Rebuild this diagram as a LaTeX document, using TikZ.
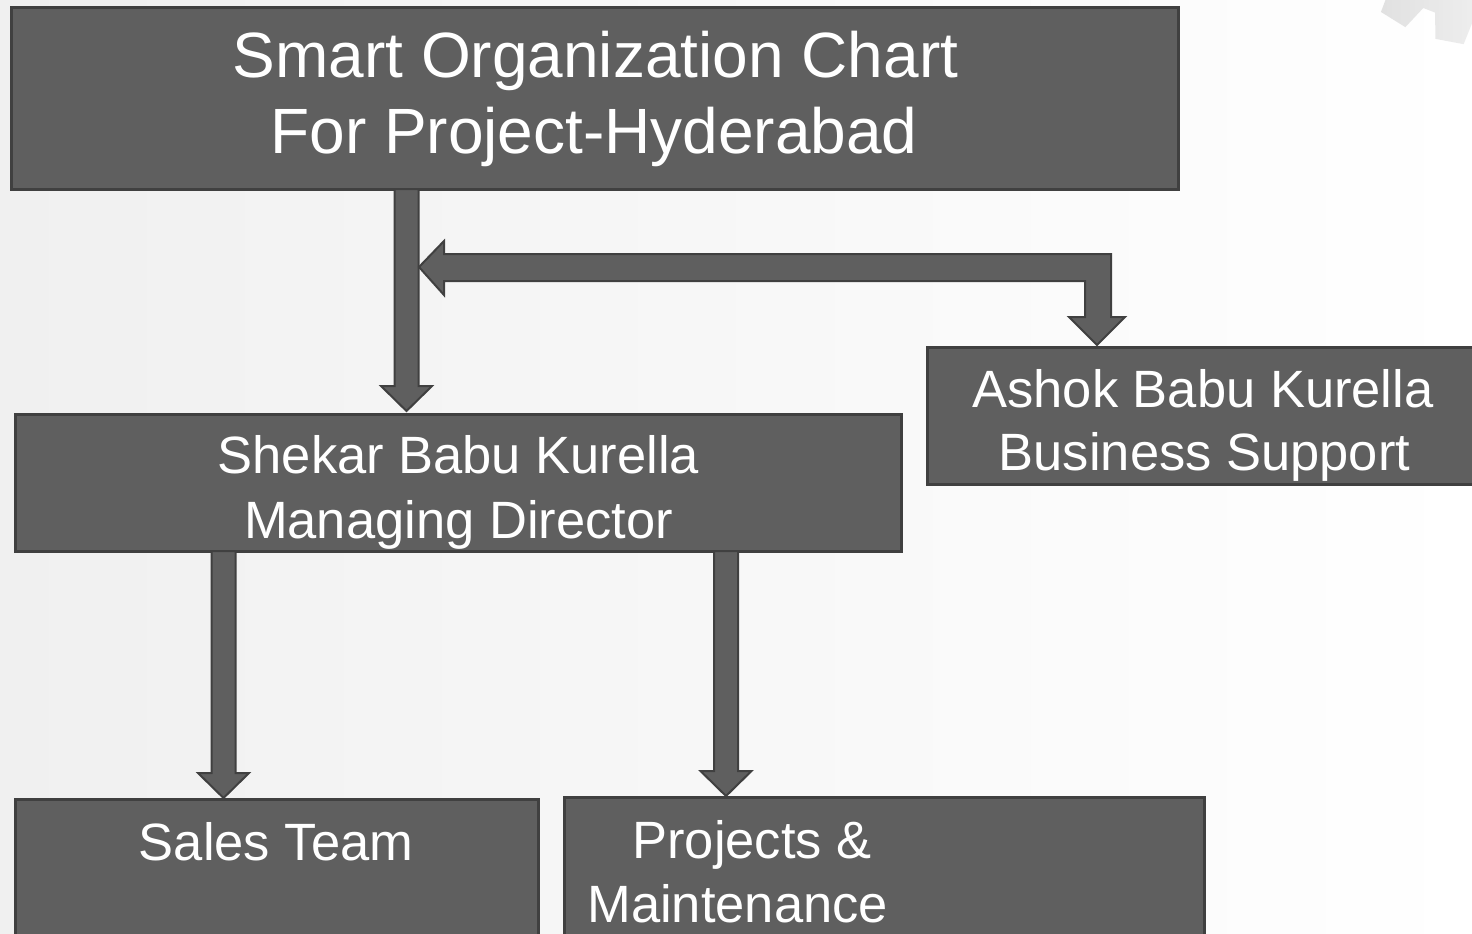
\documentclass[tikz,border=0pt]{standalone}
\usepackage{fontspec}
\setmainfont{Liberation Sans}
\usetikzlibrary{calc}
\definecolor{boxfill}{RGB}{95,95,95}
\definecolor{boxline}{RGB}{64,64,64}
\definecolor{bgleft}{RGB}{240,240,240}
\tikzset{
  box/.style={rectangle, fill=boxfill, draw=boxline, line width=1.5pt, inner sep=0pt, outer sep=0pt},
  txt/.style={text=white, inner sep=0pt, anchor=base, font=\fontsize{26.25}{31}\selectfont},
  ttl/.style={txt, font=\fontsize{32}{38}\selectfont},
  blk/.style={fill=boxfill, draw=boxline, line width=1pt, line join=miter},
}
\newcommand{\blockdown}[2]{\draw[blk] ($(#1)+(-12,0)$) -- ($(#2)+(-12,-25)$) -- ($(#2)+(-25.5,-25)$) -- (#2) -- ($(#2)+(25.5,-25)$) -- ($(#2)+(12,-25)$) -- ($(#1)+(12,0)$) -- cycle;}
\begin{document}
\begin{tikzpicture}[x=0.5pt,y=-0.5pt]
\useasboundingbox (0,0) rectangle (1472,933);
\clip (0,0) rectangle (1472,933);
\shade[left color=bgleft, right color=white] (0,0) rectangle (1472,933);
% gear decoration
\begin{scope}[shift={(1480,-120)}]
\shade[left color=gray!45, right color=gray!10, opacity=0.6]
  (60:140) \foreach \a in {79.5,100.7,121.9,143.1} { -- (\a-8:140) -- (\a-5:165) -- (\a+5:165) -- (\a+8:140) } -- (165:140) -- (0,0) -- cycle;
\end{scope}
% boxes
\node[box, minimum width=583.5pt, minimum height=91pt] (title) at (594.5,98) {};
\node[box, minimum width=443pt, minimum height=68.5pt] (shekar) at (458,482.5) {};
\node[box, minimum width=273.5pt, minimum height=68.5pt] (ashok) at (1200.5,415.5) {};
\node[box, minimum width=261.5pt, minimum height=70.5pt] (sales) at (276.5,869.5) {};
\node[box, minimum width=320pt, minimum height=71.5pt] (projects) at (884,868.5) {};
% texts
\node[ttl] (t1) at (595.5,77) {Smart Organization Chart};
\node[ttl] (t2) at (594,153) {For Project-Hyderabad};
\node[txt] (s1) at (458.5,473) {Shekar Babu Kurella};
\node[txt] (s2) at (458.5,538) {Managing Director};
\node[txt] (k1) at (1203,407) {Ashok Babu Kurella};
\node[txt] (k2) at (1204.5,470) {Business Support};
\node[txt] (l1) at (276,860) {Sales Team};
\node[txt, anchor=base west] (p1) at (632,858) {Projects \&};
\node[txt, anchor=base west] (p2) at (587,922) {Maintenance};
% arrows
\coordinate (a1top) at ($(title.south)+(-188,0)$);
\coordinate (a1tip) at ($(a1top |- shekar.north)+(0,-3)$);
\blockdown{a1top}{a1tip}
\coordinate (a2top) at ($(shekar.south)+(-234.5,0)$);
\coordinate (a2tip) at ($(a2top |- sales.north)+(0,-1)$);
\blockdown{a2top}{a2tip}
\coordinate (a3top) at ($(shekar.south)+(268,0)$);
\coordinate (a3tip) at ($(a3top |- projects.north)+(0,-1)$);
\blockdown{a3top}{a3tip}
% bent double arrow
\coordinate (bL) at ($(a1top)+(12.5,78)$);
\coordinate (bD) at ($(ashok.north)+(-103.5,-2)$);
\draw[blk] (bL) -- ($(bL)+(25,-26)$) -- ($(bL)+(25,-13)$) -- ($(bD)+(14,-91)$) -- ($(bD)+(14,-28)$) -- ($(bD)+(28,-28)$) -- (bD) -- ($(bD)+(-28,-28)$) -- ($(bD)+(-12,-28)$) -- ($(bD)+(-12,-64)$) -- ($(bL)+(25,14)$) -- ($(bL)+(25,28)$) -- cycle;
\end{tikzpicture}
\end{document}
